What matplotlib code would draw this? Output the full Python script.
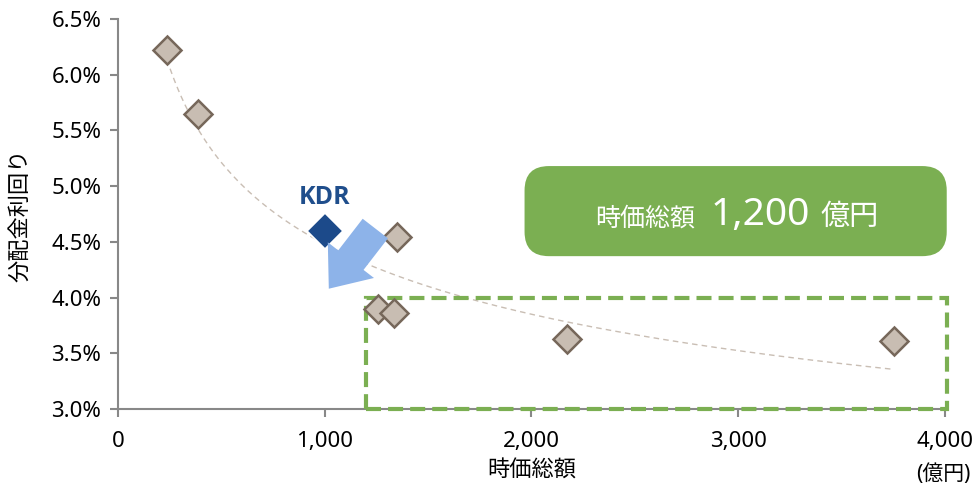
import numpy as np
import matplotlib.pyplot as plt
from matplotlib.patches import FancyBboxPatch, Rectangle

plt.rcParams['font.family'] = ['Noto Sans', 'Noto Sans CJK JP']

# 時価総額 (億円) と 分配金利回り (%)
cap = [237, 387, 1349, 1258, 1335, 2172, 3753]
yld = [6.22, 5.65, 4.54, 3.90, 3.86, 3.63, 3.61]
kdr_cap = [1000]
kdr_yld = [4.60]
xticks = [0, 1000, 2000, 3000, 4000]
yticks = [3.0, 3.5, 4.0, 4.5, 5.0, 5.5, 6.0, 6.5]

fig = plt.figure(figsize=(9.75, 4.87), dpi=100)
ax = fig.add_axes([0.121, 0.160, 0.848, 0.801])

# 累乗近似
b, ln_a = np.polyfit(np.log(cap + kdr_cap), np.log(yld + kdr_yld), 1)
xs = np.linspace(min(cap), max(cap), 200)
ax.plot(xs, np.exp(ln_a) * xs ** b, ls=(0, (4, 3)), lw=1, color='#C9BEB4', zorder=2)

ax.plot(cap, yld, 'D', ms=14, mfc='#C8BDB2', mec='#76675A', mew=1.8, zorder=4)
ax.plot(kdr_cap, kdr_yld, 'D', ms=18, mfc='#1C4A8A', mec='white', mew=1.2, zorder=5)
ax.text(kdr_cap[0], kdr_yld[0] + 0.3, 'KDR', color='#1F4E8C', fontsize=18,
        fontweight='bold', ha='center', va='center', family=['Open Sans', 'DejaVu Sans'])

ax.annotate('', xy=(1020, 4.08), xytext=(1245, 4.62),
            arrowprops=dict(arrowstyle='simple,head_length=2.6,head_width=4.2,tail_width=2.3',
                            color='#8DB3E9', lw=0, shrinkA=0, shrinkB=0), zorder=6)

ax.add_patch(Rectangle((1200, 3.0), 2810, 1.0, fill=False, ec='#7BAF52', lw=3,
                       ls=(0, (3.6, 1.7)), zorder=3, clip_on=False))

box = FancyBboxPatch((0.538, 0.474), 0.433, 0.185, boxstyle='round,pad=0,rounding_size=0.025',
                     transform=fig.transFigure, fc='#7BAF52', ec='none', mutation_aspect=2)
fig.patches.append(box)
fig.text(0.713, 0.551, '時価総額', color='white', fontsize=18, ha='right', va='center')
fig.text(0.729, 0.559, '1,200', color='white', fontsize=28, ha='left', va='center')
fig.text(0.842, 0.554, '億円', color='white', fontsize=21, ha='left', va='center')

ax.set_xlim(0, 4000)
ax.set_ylim(3.0, 6.5)
ax.set_xticks(xticks)
ax.set_xticklabels([f'{v:,}' for v in xticks])
ax.set_yticks(yticks)
ax.set_yticklabels([f'{v:.1f}%' for v in yticks])
for s in ['top', 'right']:
    ax.spines[s].set_visible(False)
for s in ['left', 'bottom']:
    ax.spines[s].set_color('#888888')
    ax.spines[s].set_linewidth(1.5)
ax.tick_params(direction='out', length=6, width=1.5, color='#888888', labelsize=16, pad=6)
ax.tick_params(axis='x', pad=10)

ax.set_xlabel('時価総額', fontsize=16, labelpad=6)
ax.set_ylabel('分配金利回り', fontsize=16)
ax.yaxis.set_label_coords(-0.105, 0.497)
fig.text(0.967, 0.026, '(億円)', fontsize=15, ha='center', va='center')

plt.savefig('out.png')
